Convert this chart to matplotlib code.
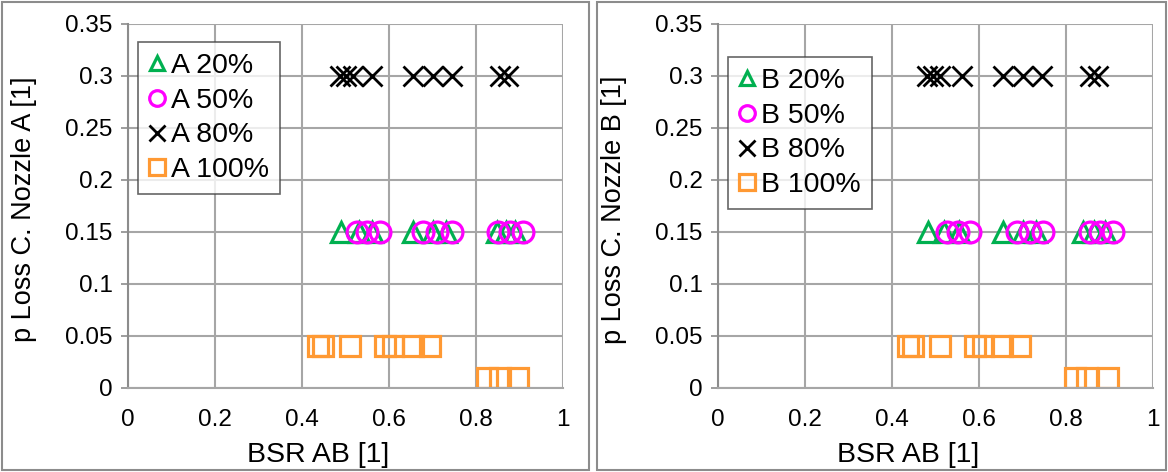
import matplotlib
matplotlib.use("Agg")
import matplotlib.pyplot as plt
from matplotlib.patches import Rectangle
from matplotlib.ticker import FuncFormatter

plt.rcParams['font.family'] = ['Liberation Sans', 'DejaVu Sans']

# Operating points per load level: BSR AB [1] and pressure-loss coefficient [1]
a20_x = [0.49, 0.53, 0.56, 0.655, 0.70, 0.73, 0.848, 0.87, 0.89]
a20_y = [0.15] * 9
a50_x = [0.526, 0.549, 0.579, 0.678, 0.71, 0.745, 0.851, 0.878, 0.908]
a50_y = [0.15] * 9
a80_x = [0.487, 0.50, 0.517, 0.561, 0.655, 0.70, 0.745, 0.855, 0.873]
a80_y = [0.30] * 9
a100_x = [0.437, 0.449, 0.51, 0.59, 0.61, 0.655, 0.695, 0.825, 0.855, 0.896]
a100_y = [0.04] * 7 + [0.01] * 3

b20_x = [0.483, 0.52, 0.555, 0.655, 0.70, 0.73, 0.84, 0.865, 0.89]
b20_y = [0.15] * 9
b50_x = [0.526, 0.552, 0.579, 0.687, 0.717, 0.747, 0.855, 0.878, 0.908]
b50_y = [0.15] * 9
b80_x = [0.48, 0.495, 0.51, 0.56, 0.655, 0.70, 0.745, 0.855, 0.873]
b80_y = [0.30] * 9
b100_x = [0.437, 0.449, 0.51, 0.59, 0.61, 0.653, 0.694, 0.82, 0.848, 0.897]
b100_y = [0.04] * 7 + [0.01] * 3

x_ticks = [0, 0.2, 0.4, 0.6, 0.8, 1]
y_ticks = [0, 0.05, 0.1, 0.15, 0.2, 0.25, 0.3, 0.35]

GREEN = '#00B050'
MAGENTA = '#FF00FF'
ORANGE = '#FF9933'
GRID = '#A6A6A6'

W, H = 1168, 472
fig = plt.figure(figsize=(W / 100, H / 100), dpi=100)

# outer frames of the two chart panels
for (x0, x1) in [(2, 589), (597, 1166)]:
    fig.patches.append(Rectangle((x0 / W, 2 / H), (x1 - x0) / W, (H - 4) / H,
                                 transform=fig.transFigure, fill=False,
                                 edgecolor='#8C8C8C', linewidth=1.5))

AX_H = 364
AX_W = 435


def panel(left_px, series, ylabel, legend_pos, ylabel_px, xlabel_px):
    ax = fig.add_axes([left_px / W, 1 - 388 / H, AX_W / W, AX_H / H])
    ax.set_xlim(0, 1)
    ax.set_ylim(0, 0.35)
    ax.set_xticks(x_ticks)
    ax.set_yticks(y_ticks)
    fmt = FuncFormatter(lambda v, p: '%g' % round(v, 2))
    ax.xaxis.set_major_formatter(fmt)
    ax.yaxis.set_major_formatter(fmt)
    ax.grid(True, color=GRID, linewidth=1.5)
    ax.set_axisbelow(True)
    for s in ['top', 'right']:
        ax.spines[s].set_visible(False)
    ax.spines['left'].set_color('#8C8C8C')
    ax.spines['bottom'].set_color(GRID)
    ax.spines['left'].set_linewidth(1.5)
    ax.spines['bottom'].set_linewidth(1.5)
    ax.tick_params(axis='y', length=5, width=1.2, color='#8C8C8C',
                   labelsize=17.5, pad=6)
    ax.tick_params(axis='x', length=0, labelsize=17.5, pad=15)
    ax.set_xlabel('BSR AB [1]', fontsize=20.5)
    ax.xaxis.set_label_coords((xlabel_px - left_px) / AX_W, -(455 - 388) / AX_H)
    ax.xaxis.label.set_va('center')
    ax.set_ylabel(ylabel, fontsize=19.5)
    ax.yaxis.set_label_coords(-(left_px - ylabel_px) / AX_W, 0.49)
    ax.yaxis.label.set_va('center')

    (x20, y20, l20), (x50, y50, l50), (x80, y80, l80), (x100, y100, l100) = series
    ax.plot(x20, y20, linestyle='none', marker='^', markersize=14,
            markerfacecolor='none', markeredgecolor=GREEN, markeredgewidth=2.3,
            label=l20)
    ax.plot(x50, y50, linestyle='none', marker='o', markersize=15,
            markerfacecolor='none', markeredgecolor=MAGENTA, markeredgewidth=2.3,
            label=l50)
    ax.plot(x80, y80, linestyle='none', marker='x', markersize=15,
            markeredgecolor='black', markeredgewidth=2.0, label=l80)
    ax.plot(x100, y100, linestyle='none', marker='s', markersize=15,
            markerfacecolor='none', markeredgecolor=ORANGE, markeredgewidth=2.3,
            label=l100)

    lx, ly = legend_pos
    leg = ax.legend(loc='upper left', bbox_to_anchor=(lx, ly), borderaxespad=0,
                    fontsize=20.5, handlelength=0.5, handletextpad=0.25,
                    labelspacing=0.3, borderpad=0.4, frameon=True,
                    fancybox=False, markerscale=0.75)
    leg.get_frame().set_edgecolor('#404040')
    leg.get_frame().set_linewidth(1.2)
    return ax


panel(128,
      [(a20_x, a20_y, 'A 20%'), (a50_x, a50_y, 'A 50%'),
       (a80_x, a80_y, 'A 80%'), (a100_x, a100_y, 'A 100%')],
      'p Loss C. Nozzle A [1]', (10 / AX_W, 1 - 18 / AX_H), 24, 318)
panel(718,
      [(b20_x, b20_y, 'B 20%'), (b50_x, b50_y, 'B 50%'),
       (b80_x, b80_y, 'B 80%'), (b100_x, b100_y, 'B 100%')],
      'p Loss C. Nozzle B [1]', (10 / AX_W, 1 - 33 / AX_H), 614, 908)

fig.savefig('out.png', dpi=100)
